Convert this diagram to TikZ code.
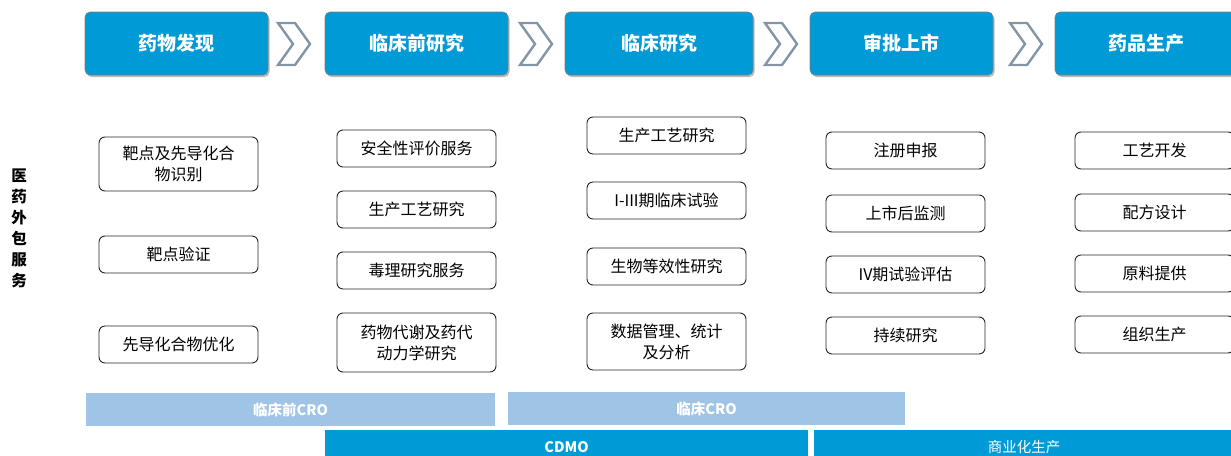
\documentclass[tikz,border=0pt]{standalone}
\usepackage{fontspec}
\newfontfamily\cjk{Noto Sans CJK SC}
\usetikzlibrary{shadows}
\definecolor{hdrblue}{RGB}{0,154,214}
\definecolor{lightbar}{RGB}{160,196,230}
\definecolor{chevgray}{RGB}{132,150,166}
\definecolor{hdrborder}{RGB}{120,130,140}
\tikzset{
  hdr/.style={draw=hdrborder, line width=0.6pt, fill=hdrblue, rounded corners=5pt,
    minimum height=63pt, inner sep=0pt, text=white,
    font=\cjk\bfseries\fontsize{19}{22}\selectfont,
    drop shadow={shadow xshift=1.5pt, shadow yshift=-2pt, opacity=0.45, fill=black!60}},
  sbox/.style={draw=black!85, line width=0.9pt, rounded corners=6pt, fill=white,
    minimum width=159pt, minimum height=37pt, inner sep=0pt, align=center,
    font=\cjk\fontsize{16}{21}\selectfont},
  chev/.style={draw=chevgray, line width=2.4pt, fill=white, line join=miter},
  barlight/.style={fill=lightbar, minimum height=33pt, inner sep=0pt, text=white,
    font=\cjk\bfseries\fontsize{14.5}{16}\selectfont},
  bardark/.style={fill=hdrblue, minimum height=33pt, inner sep=0pt, text=white,
    font=\cjk\bfseries\fontsize{14.5}{16}\selectfont},
}
\begin{document}
\begin{tikzpicture}[x=1pt,y=-1pt]
\useasboundingbox (0,0) rectangle (1231,455);
% header boxes
\node[hdr, minimum width=183pt] (h1) at (176.5,43.5) {药物发现};
\node[hdr, minimum width=183pt] (h2) at (416.5,43.5) {临床前研究};
\node[hdr, minimum width=188pt] (h3) at (659,43.5) {临床研究};
\node[hdr, minimum width=183pt] (h4) at (901.5,43.5) {审批上市};
\node[hdr, minimum width=183pt] (h5) at (1146.5,43.5) {药品生产};
% chevrons
\foreach \cx in {278,520,765,1010}{
  \draw[chev] (\cx,23) -- (\cx+17,23) -- (\cx+32,44) -- (\cx+17,65) -- (\cx,65) -- (\cx+15,44) -- cycle;
}
% side label
\node[font=\cjk\bfseries\fontsize{15.5}{21}\selectfont, align=center, inner sep=0pt] (side) at (19,228)
  {医\\药\\外\\包\\服\\务};
% column 1
\node[sbox, minimum height=54pt] (a1) at (178.5,164) {靶点及先导化合\\物识别};
\node[sbox] (a2) at (178.5,254.5) {靶点验证};
\node[sbox] (a3) at (178.5,344.5) {先导化合物优化};
% column 2
\node[sbox] (b1) at (416.5,148.5) {安全性评价服务};
\node[sbox] (b2) at (416.5,209.5) {生产工艺研究};
\node[sbox] (b3) at (416.5,270.5) {毒理研究服务};
\node[sbox, minimum height=59pt] (b4) at (416.5,342.5) {药物代谢及药代\\动力学研究};
% column 3
\node[sbox] (c1) at (666.5,135.5) {生产工艺研究};
\node[sbox] (c2) at (666.5,200.5) {I-III期临床试验};
\node[sbox] (c3) at (666.5,266.5) {生物等效性研究};
\node[sbox, minimum height=57pt] (c4) at (666.5,341.5) {数据管理、统计\\及分析};
% column 4
\node[sbox] (d1) at (905.5,150.5) {注册申报};
\node[sbox] (d2) at (905.5,213.5) {上市后监测};
\node[sbox] (d3) at (905.5,274.5) {IV期试验评估};
\node[sbox] (d4) at (905.5,335.5) {持续研究};
% column 5
\node[sbox] (e1) at (1154.5,150.5) {工艺开发};
\node[sbox] (e2) at (1154.5,212.5) {配方设计};
\node[sbox] (e3) at (1154.5,273.5) {原料提供};
\node[sbox] (e4) at (1154.5,334.5) {组织生产};
% bottom bars
\node[barlight, minimum width=409pt] (p1) at (290.5,409.5) {临床前CRO};
\node[barlight, minimum width=397pt] (p2) at (706.5,408.5) {临床CRO};
\node[bardark, minimum width=483pt, anchor=north] (q1) at (566.5,430) {CDMO};
\node[bardark, minimum width=420pt, anchor=north, font=\cjk\fontsize{14.5}{16}\selectfont] (q2) at (1024,430) {商业化生产};
\end{tikzpicture}
\end{document}
